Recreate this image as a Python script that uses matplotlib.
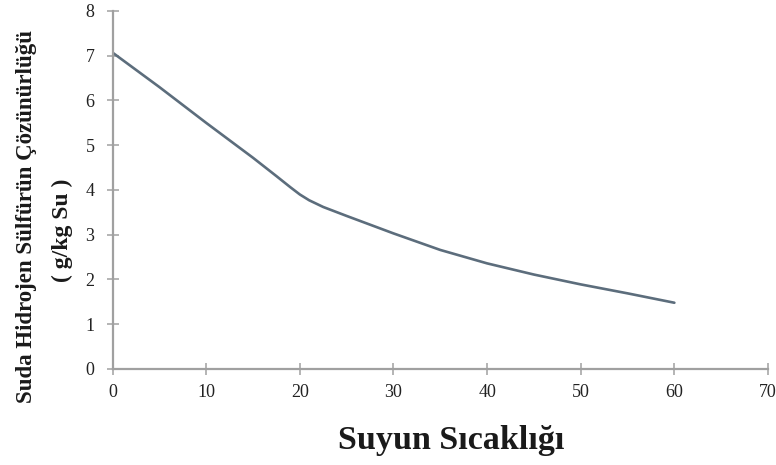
import matplotlib
matplotlib.use("Agg")
import matplotlib.pyplot as plt

temperature = [0, 5, 10, 15, 17.5, 19, 20, 21, 22.5, 25, 30, 35, 40, 45, 50, 55, 60]
solubility = [7.07, 6.30, 5.50, 4.72, 4.31, 4.06, 3.90, 3.77, 3.62, 3.42, 3.03, 2.66, 2.36, 2.11, 1.89, 1.69, 1.48]

x_ticks = [0, 10, 20, 30, 40, 50, 60, 70]
y_ticks = [0, 1, 2, 3, 4, 5, 6, 7, 8]

ylabel_line1 = "Suda Hidrojen Sülfürün Çözünürlüğü"
ylabel_line2 = "( g/kg Su )"
xlabel = "Suyun Sıcaklığı"

plt.rcParams['font.family'] = ['Liberation Serif', 'DejaVu Serif']

fig = plt.figure(figsize=(7.76, 4.65), dpi=100)
ax = fig.add_axes([0.145, 0.2065, 0.8447, 0.7699])

ax.plot(temperature, solubility, color='#5c6d7c', linewidth=1.9,
        solid_capstyle='round', solid_joinstyle='round')

ax.set_xlim(0, 70)
ax.set_ylim(0, 8)
ax.set_xticks(x_ticks)
ax.set_yticks(y_ticks)

for side in ['top', 'right']:
    ax.spines[side].set_visible(False)
for side in ['left', 'bottom']:
    ax.spines[side].set_color('#a0a0a0')
    ax.spines[side].set_linewidth(1.6)

ax.tick_params(axis='both', direction='inout', length=8, width=1.1, color='#a0a0a0',
               labelsize=13, labelcolor='#222222')
ax.tick_params(axis='x', pad=7)
ax.tick_params(axis='y', pad=9)

fig.text(0.034, 0.535, ylabel_line1, rotation=90, ha='center', va='center',
         fontsize=16.5, fontweight='bold', color='#1a1a1a')
fig.text(0.081, 0.505, ylabel_line2, rotation=90, ha='center', va='center',
         fontsize=17, fontweight='bold', color='#1a1a1a')
fig.text(0.581, 0.034, xlabel, ha='center', va='baseline',
         fontsize=24.5, fontweight='bold', color='#1a1a1a')

fig.savefig("out.png", dpi=100, facecolor='white')
